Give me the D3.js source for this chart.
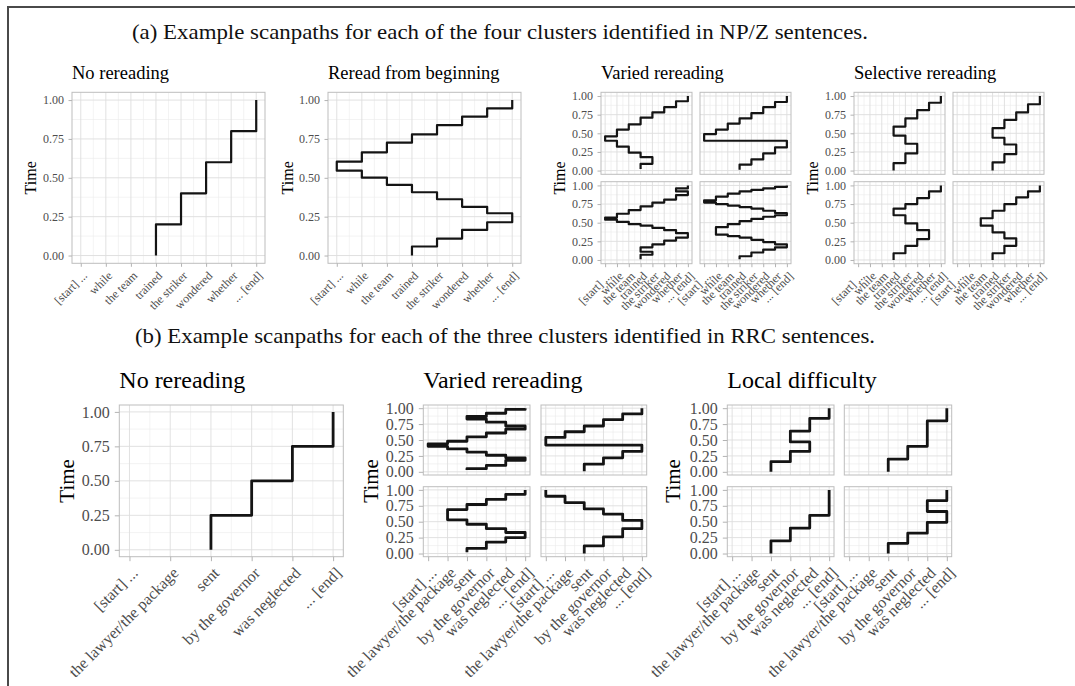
<!DOCTYPE html>
<html>
<head>
<meta charset="utf-8">
<script src="https://cdn.jsdelivr.net/npm/d3@7"></script>
<style>
  body { margin: 0; background: #fff }
  svg { display: block }
</style>
</head>
<body>
<svg id="fig" width="1075" height="686"></svg>
<script>
var serif = "'Liberation Serif', 'Times New Roman', serif"

// word regions on the x axis
var npzWords = ['[start] ...', 'while', 'the team', 'trained', 'the striker', 'wondered', 'whether', '... [end]']
var rrcWords = ['[start] ...', 'the lawyer/the package', 'sent', 'by the governor', 'was neglected', '... [end]']
var timeBreaks = [0, 0.25, 0.5, 0.75, 1]
var timeMinor = [0.125, 0.375, 0.625, 0.875]

// scanpaths: word index of each fixation, and the normalised time at each fixation boundary
var npzNoWords = [[3, 4, 5, 6, 7]]
var npzNoTimes = [[0, 0.2, 0.4, 0.6, 0.8, 1]]

var npzBeginWords = [[3, 4, 5, 6, 7, 6, 5, 4, 3, 2, 1, 0, 1, 2, 3, 4, 5, 6, 7]]
var npzBeginTimes = [[0, 0.058, 0.109, 0.165, 0.214, 0.272, 0.313, 0.362, 0.407, 0.454, 0.501, 0.546, 0.604, 0.664, 0.726, 0.779, 0.839, 0.893, 0.946, 1]]

var npzVariedWords = [
  [3, 4, 3, 2, 1, 0, 1, 2, 3, 4, 5, 6, 7],
  [3, 4, 5, 6, 7, 0, 1, 2, 3, 4, 5, 6, 7],
  [3, 4, 3, 4, 5, 6, 7, 6, 5, 4, 3, 2, 1, 0, 1, 2, 3, 4, 5, 6, 7, 6, 7],
  [3, 4, 5, 6, 7, 6, 5, 4, 3, 2, 1, 2, 3, 4, 5, 6, 7, 6, 5, 4, 3, 2, 1, 0, 1, 2, 3, 4, 5, 6, 7]
]
var npzVariedTimes = [
  [0.02, 0.09, 0.18, 0.24, 0.32, 0.40, 0.46, 0.55, 0.62, 0.71, 0.78, 0.85, 0.93, 1],
  [0.01, 0.08, 0.15, 0.23, 0.31, 0.40, 0.49, 0.55, 0.63, 0.70, 0.77, 0.85, 0.92, 1],
  [0.01, 0.07, 0.11, 0.17, 0.21, 0.26, 0.30, 0.36, 0.40, 0.43, 0.46, 0.48, 0.51, 0.54, 0.57, 0.62, 0.67, 0.72, 0.77, 0.81, 0.87, 0.92, 0.96, 1],
  [0.01, 0.05, 0.10, 0.14, 0.17, 0.21, 0.24, 0.27, 0.30, 0.32, 0.34, 0.44, 0.48, 0.52, 0.55, 0.58, 0.60, 0.63, 0.66, 0.69, 0.71, 0.73, 0.75, 0.77, 0.80, 0.85, 0.89, 0.92, 0.94, 0.96, 0.98, 1]
]

var npzSelectiveWords = [
  [3, 4, 5, 4, 3, 4, 5, 6, 7],
  [3, 4, 5, 4, 3, 4, 5, 6, 7],
  [3, 4, 5, 6, 5, 4, 3, 4, 5, 6, 7],
  [3, 4, 5, 4, 3, 2, 3, 4, 5, 6, 7]
]
var npzSelectiveTimes = [
  [0, 0.10, 0.23, 0.36, 0.47, 0.59, 0.70, 0.81, 0.91, 1],
  [0, 0.11, 0.22, 0.35, 0.44, 0.57, 0.68, 0.78, 0.89, 1],
  [0, 0.09, 0.19, 0.28, 0.40, 0.49, 0.60, 0.69, 0.75, 0.83, 0.92, 1],
  [0, 0.09, 0.19, 0.29, 0.37, 0.46, 0.56, 0.66, 0.75, 0.84, 0.92, 1]
]

var rrcNoWords = [[2, 3, 4, 5]]
var rrcNoTimes = [[0, 0.25, 0.5, 0.75, 1]]

var rrcVariedWords = [
  [2, 3, 4, 5, 4, 3, 2, 1, 0, 1, 2, 3, 4, 5, 4, 3, 2, 3, 4, 5],
  [2, 3, 4, 5, 0, 1, 2, 3, 4, 5],
  [2, 3, 4, 5, 4, 3, 2, 1, 2, 3, 4, 5],
  [2, 3, 4, 5, 4, 3, 2, 1, 0]
]
var rrcVariedTimes = [
  [0.03, 0.05, 0.10, 0.18, 0.22, 0.26, 0.31, 0.36, 0.40, 0.44, 0.48, 0.55, 0.61, 0.67, 0.72, 0.78, 0.83, 0.87, 0.92, 0.98, 1],
  [0.01, 0.12, 0.22, 0.32, 0.42, 0.54, 0.63, 0.72, 0.82, 0.91, 1],
  [0.02, 0.08, 0.18, 0.25, 0.33, 0.39, 0.46, 0.53, 0.69, 0.77, 0.85, 0.93, 1],
  [0, 0.12, 0.26, 0.39, 0.52, 0.62, 0.70, 0.80, 0.90, 1]
]

var rrcLocalWords = [
  [2, 3, 4, 3, 4, 5],
  [2, 3, 4, 5],
  [2, 3, 4, 5],
  [2, 3, 4, 5, 4, 5]
]
var rrcLocalTimes = [
  [0, 0.16, 0.32, 0.47, 0.64, 0.84, 1],
  [0, 0.2, 0.4, 0.8, 1],
  [0, 0.2, 0.4, 0.6, 1],
  [0, 0.16, 0.32, 0.49, 0.66, 0.83, 1]
]

var svg = d3.select('#fig')

// frame of the figure
svg.append('path').attr('d', 'M8,690V7H1080').attr('fill', 'none').attr('stroke', '#4a4a4a').attr('stroke-width', 2)

var styleA = {font: 12, tick: 3.5, pad: 4.5, xpad: 3, lw: 2.2, title: 18.5, axis: 16}
var styleB = {font: 16, tick: 4.5, pad: 5, xpad: 4, lw: 2.8, title: 24, axis: 21}

function drawPanel(o, st) {
  var n = o.labels.length
  var x = d3.scaleLinear().domain([-0.05 * (n - 1), 1.05 * (n - 1)]).range([o.x0, o.x1])
  var y = d3.scaleLinear().domain([-0.05, 1.05]).range([o.y1, o.y0])
  var g = svg.append('g')

  g.append('rect').attr('x', o.x0).attr('y', o.y0).attr('width', o.x1 - o.x0).attr('height', o.y1 - o.y0).attr('fill', '#fff')

  // minor grid
  g.selectAll('.mx').data(d3.range(n - 1).map(function(i){ return i + 0.5 })).enter().append('line')
    .attr('x1', x).attr('x2', x).attr('y1', o.y0).attr('y2', o.y1)
    .attr('stroke', '#ebebeb').attr('stroke-width', 0.6)
  g.selectAll('.my').data(timeMinor).enter().append('line')
    .attr('y1', y).attr('y2', y).attr('x1', o.x0).attr('x2', o.x1)
    .attr('stroke', '#ebebeb').attr('stroke-width', 0.6)
  // major grid
  g.selectAll('.gx').data(d3.range(n)).enter().append('line')
    .attr('x1', x).attr('x2', x).attr('y1', o.y0).attr('y2', o.y1)
    .attr('stroke', '#dedede').attr('stroke-width', 0.9)
  g.selectAll('.gy').data(timeBreaks).enter().append('line')
    .attr('y1', y).attr('y2', y).attr('x1', o.x0).attr('x2', o.x1)
    .attr('stroke', '#dedede').attr('stroke-width', 0.9)

  // scanpath: vertical run at each word, horizontal jump to the next one
  var pts = []
  o.words.forEach(function(w, i) {
    pts.push([x(w), y(o.times[i])])
    pts.push([x(w), y(o.times[i + 1])])
  })
  g.append('path').attr('d', d3.line()(pts)).attr('fill', 'none')
    .attr('stroke', '#141414').attr('stroke-width', st.lw).attr('stroke-linejoin', 'round')

  g.append('rect').attr('x', o.x0).attr('y', o.y0).attr('width', o.x1 - o.x0).attr('height', o.y1 - o.y0)
    .attr('fill', 'none').attr('stroke', '#bdbdbd').attr('stroke-width', 1)

  if (o.showY) {
    var ay = g.append('g').attr('transform', 'translate(' + o.x0 + ',0)')
      .call(d3.axisLeft(y).tickValues(timeBreaks).tickFormat(d3.format('.2f')).tickSize(st.tick).tickPadding(st.pad))
    ay.attr('font-size', st.font).attr('font-family', serif)
    ay.select('.domain').remove()
    ay.selectAll('line').attr('stroke', '#b3b3b3')
    ay.selectAll('text').attr('fill', '#4d4d4d')
  }
  if (o.showX) {
    var ax = g.append('g').attr('transform', 'translate(0,' + o.y1 + ')')
      .call(d3.axisBottom(x).tickValues(d3.range(n)).tickFormat(function(i){ return o.labels[i] }).tickSize(st.tick))
    ax.attr('font-size', st.font).attr('font-family', serif)
    ax.select('.domain').remove()
    ax.selectAll('line').attr('stroke', '#b3b3b3')
    ax.selectAll('text').attr('fill', '#4d4d4d').attr('y', null).attr('dy', '0.78em').attr('text-anchor', 'end')
      .attr('transform', 'translate(0,' + (st.tick + st.xpad) + ')rotate(-45)')
  }
}

function drawPlot(title, labels, words, times, cols, rows, timeX, st) {
  var k = 0
  rows.forEach(function(r, ri) {
    cols.forEach(function(c, ci) {
      if (k >= words.length) return
      drawPanel({x0: c[0], x1: c[1], y0: r[0], y1: r[1], labels: labels,
        words: words[k], times: times[k], showY: ci == 0, showX: ri == rows.length - 1}, st)
      k++
    })
  })
  var top = rows[0][0], bottom = rows[rows.length - 1][1]
  svg.append('text').attr('x', cols[0][0]).attr('y', top - st.title * 0.72)
    .attr('font-family', serif).attr('font-size', st.title).attr('fill', '#000').text(title)
  svg.append('text').attr('transform', 'translate(' + timeX + ',' + ((top + bottom) / 2) + ')rotate(-90)')
    .attr('text-anchor', 'middle').attr('font-family', serif).attr('font-size', st.axis).attr('fill', '#000').text('Time')
}

function caption(str, x, y, len) {
  svg.append('text').attr('x', x).attr('y', y).attr('font-family', serif).attr('font-size', 21)
    .attr('textLength', len).attr('lengthAdjust', 'spacingAndGlyphs').attr('fill', '#111').text(str)
}

caption('(a) Example scanpaths for each of the four clusters identified in NP/Z sentences.', 132, 39, 736)
caption('(b) Example scanpaths for each of the three clusters identified in RRC sentences.', 135, 343, 740)

var rowA = [[92.3, 263.3]]
var rowsA = [[92.3, 174.3], [181.7, 263.7]]
drawPlot('No rereading', npzWords, npzNoWords, npzNoTimes, [[72, 265]], rowA, 36, styleA)
drawPlot('Reread from beginning', npzWords, npzBeginWords, npzBeginTimes, [[328, 521]], rowA, 292.5, styleA)
drawPlot('Varied rereading', npzWords, npzVariedWords, npzVariedTimes, [[601, 692], [700, 791]], rowsA, 565, styleA)
drawPlot('Selective rereading', npzWords, npzSelectiveWords, npzSelectiveTimes, [[854, 945], [953, 1044]], rowsA, 818, styleA)

var rowB = [[405, 556.7]]
var rowsB = [[405, 475], [486.7, 556.7]]
drawPlot('No rereading', rrcWords, rrcNoWords, rrcNoTimes, [[119.3, 343.3]], rowB, 74, styleB)
drawPlot('Varied rereading', rrcWords, rrcVariedWords, rrcVariedTimes, [[423.3, 530], [541, 646.7]], rowsB, 378, styleB)
drawPlot('Local difficulty', rrcWords, rrcLocalWords, rrcLocalTimes, [[727.3, 834], [844.3, 951.7]], rowsB, 680, styleB)
</script>
</body>
</html>
